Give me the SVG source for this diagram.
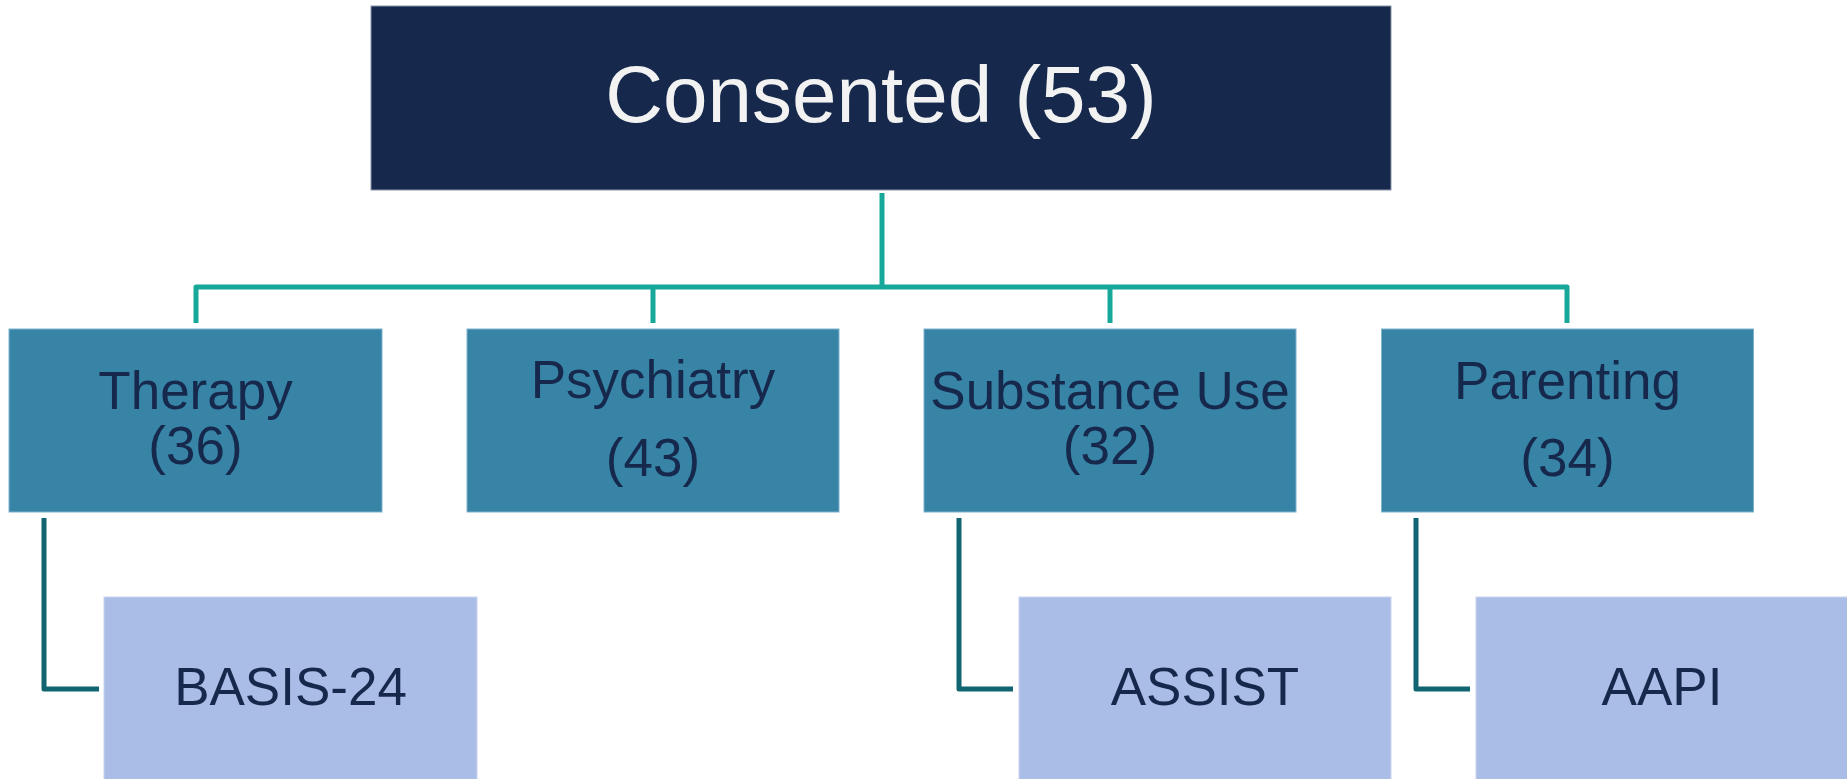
<svg xmlns="http://www.w3.org/2000/svg" width="1847" height="779" viewBox="0 0 1847 779">
  <style>
    .root { fill: #16294c; stroke: #8a96a8; stroke-width: 1; }
    .cat { fill: #3784a7; stroke: #7fb3cb; stroke-width: 1; }
    .tool { fill: #aabde6; stroke: #c8d4ee; stroke-width: 1; }
    text { font-family: "Liberation Sans", Arial, sans-serif; text-anchor: middle; }
    .t-root { font-size: 80px; fill: #f2f2f2; }
    .t-cat { font-size: 53px; fill: #16294c; }
    .t-tool { font-size: 53px; fill: #16294c; }
    .link-top { fill: none; stroke: #17a89a; stroke-width: 5; stroke-linejoin: round; }
    .link-sub { fill: none; stroke: #106570; stroke-width: 5; stroke-linejoin: round; }
  </style>

  <rect width="1847" height="779" fill="#ffffff"/>

  <g id="connectors">
    <path class="link-top" d="M882,193 V287"/>
    <path class="link-top" d="M196,323 V287 H1567 V323"/>
    <path class="link-top" d="M653,287 V323"/>
    <path class="link-top" d="M1110,287 V323"/>
    <path class="link-sub" d="M44,518 V689 H99"/>
    <path class="link-sub" d="M959,518 V689 H1013"/>
    <path class="link-sub" d="M1416,518 V689 H1470"/>
  </g>

  <g id="consented">
    <rect class="root" x="371" y="6" width="1020" height="184"/>
    <text class="t-root" x="881" y="122">Consented (53)</text>
  </g>

  <g id="therapy">
    <rect class="cat" x="9" y="329" width="373" height="183"/>
    <text class="t-cat" x="195.5" y="409">Therapy</text>
    <text class="t-cat" x="195.5" y="464">(36)</text>
  </g>

  <g id="psychiatry">
    <rect class="cat" x="467" y="329" width="372" height="183"/>
    <text class="t-cat" x="653" y="398">Psychiatry</text>
    <text class="t-cat" x="653" y="476">(43)</text>
  </g>

  <g id="substance-use">
    <rect class="cat" x="924" y="329" width="372" height="183"/>
    <text class="t-cat" x="1110" y="409">Substance Use</text>
    <text class="t-cat" x="1110" y="464">(32)</text>
  </g>

  <g id="parenting">
    <rect class="cat" x="1381.5" y="329" width="372" height="183"/>
    <text class="t-cat" x="1567.5" y="399">Parenting</text>
    <text class="t-cat" x="1567.5" y="476">(34)</text>
  </g>

  <g id="basis-24">
    <rect class="tool" x="104" y="597" width="373" height="190"/>
    <text class="t-tool" x="290.5" y="705">BASIS-24</text>
  </g>

  <g id="assist">
    <rect class="tool" x="1019" y="597" width="372" height="190"/>
    <text class="t-tool" x="1205" y="705">ASSIST</text>
  </g>

  <g id="aapi">
    <rect class="tool" x="1476" y="597" width="372" height="190"/>
    <text class="t-tool" x="1662" y="705">AAPI</text>
  </g>
</svg>
